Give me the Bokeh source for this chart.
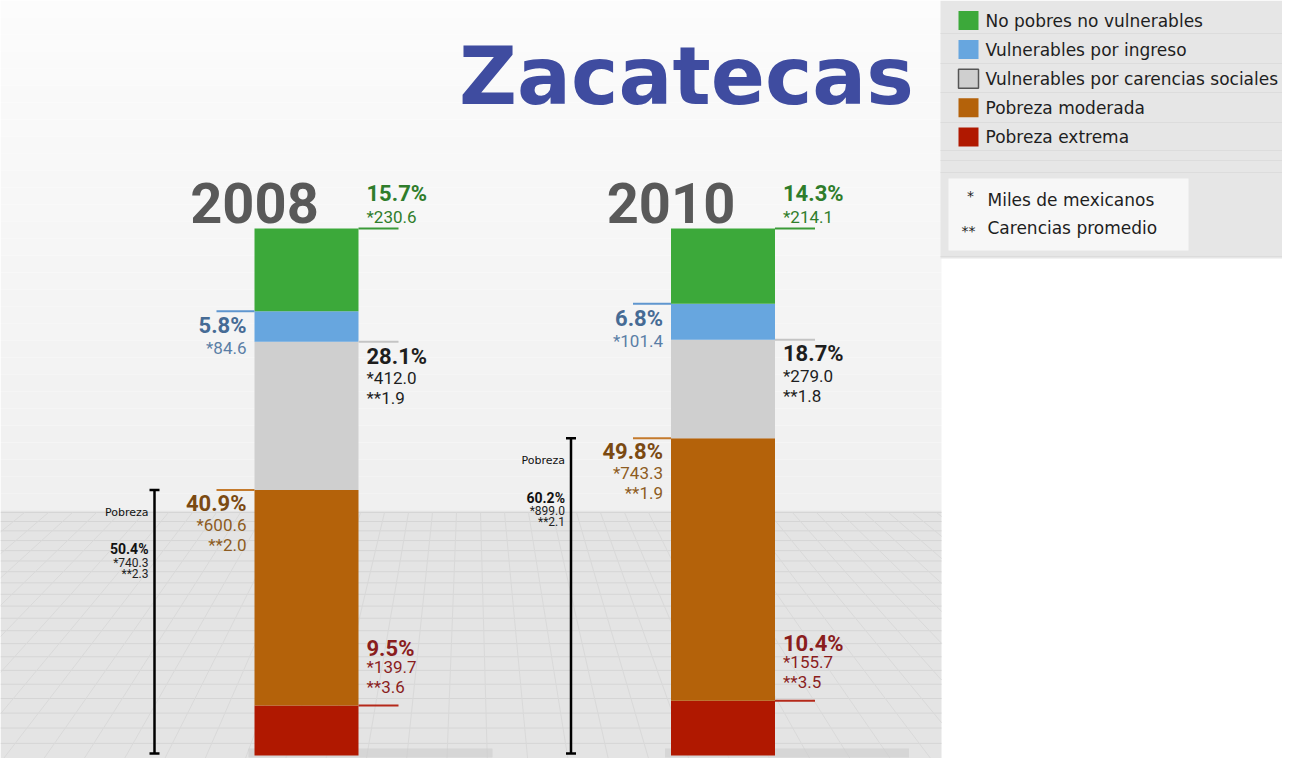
import numpy as np
from bokeh.plotting import figure
from bokeh.models import Range1d, ColumnDataSource
from bokeh.core.properties import value
from bokeh.embed import file_html
from bokeh.resources import INLINE

# ---------------- data ----------------
title = "Zacatecas"
years = ["2008", "2010"]
categories = ["No pobres no vulnerables", "Vulnerables por ingreso",
              "Vulnerables por carencias sociales", "Pobreza moderada",
              "Pobreza extrema"]
pct_2008 = [15.7, 5.8, 28.1, 40.9, 9.5]
pct_2010 = [14.3, 6.8, 18.7, 49.8, 10.4]
miles_2008 = [230.6, 84.6, 412.0, 600.6, 139.7]
miles_2010 = [214.1, 101.4, 279.0, 743.3, 155.7]
carencias_2008 = [None, None, 1.9, 2.0, 3.6]
carencias_2010 = [None, None, 1.8, 1.9, 3.5]
pobreza_label = "Pobreza"
pobreza_pct = [50.4, 60.2]
pobreza_miles = [740.3, 899.0]
pobreza_carencias = [2.3, 2.1]
notes = [("*", "Miles de mexicanos"), ("**", "Carencias promedio")]

pcts = [pct_2008, pct_2010]
miles = [miles_2008, miles_2010]
cars = [carencias_2008, carencias_2010]

# ---------------- style ----------------
seg_colors = ["#3ca93a", "#67a6df", "#cfcfcf", "#b4620a", "#b01800"]
pct_colors = ["#2f7d2b", "#466b95", "#1e1e1e", "#7b4a12", "#8a1d1d"]
sub_colors = ["#2f7d2b", "#5a7ea6", "#1e1e1e", "#8d5c22", "#8a1d1d"]
lead_colors = ["#3a9a38", "#5f96cf", "#c4c4c4", "#c47a2c", "#b5291a"]
sides = ["right", "left", "right", "left", "right"]
offsets = [(-26, -5, -5), (23, 44, 44), (23, 43, 63), (22, 42, 62), (-48, -32, -12)]

W, H = 1282, 758
S = 5.27  # px per percent
FS_PCT, FS_SUB = 22, 17
BL = 0.4  # baseline correction (fraction of font size)


def X(ix):
    return ix


def Y(iy):
    return (755 - iy) / S


def up(fs):
    return BL * fs / S


p = figure(width=W, height=H, x_range=Range1d(0, W), y_range=Range1d(Y(H), Y(0)),
           output_backend="svg", toolbar_location=None, min_border=0,
           x_axis_type=None, y_axis_type=None, outline_line_color=None,
           background_fill_color="white", border_fill_color="white")

# ---------------- background ----------------
n_b = 30
edges = np.linspace(0, 510, n_b + 1)
c0, c1 = np.array([252, 252, 252]), np.array([240, 240, 240])
bcols = []
for j in range(n_b):
    t = j / (n_b - 1)
    c = (c0 * (1 - t) + c1 * t).astype(int)
    bcols.append("#%02x%02x%02x" % tuple(c))
p.quad(left=[X(0)] * n_b, right=[X(941)] * n_b, top=[Y(e) for e in edges[:-1]],
       bottom=[Y(e) - 0.01 for e in edges[1:]], fill_color=bcols, line_color=None)
p.quad(left=[X(0)], right=[X(941)], top=[Y(510)], bottom=[Y(780)],
       fill_color="#e4e4e4", line_color=None)

# floor grid
hy = []
yy, d = 512.0, 9.0
while yy < 774:
    hy.append(yy)
    yy += d
    d += 0.35
p.multi_line(xs=[[X(0), X(941)] for _ in hy], ys=[[Y(v), Y(v)] for v in hy],
             line_color="#d5d5d5", line_width=1)
vx, vy = 470.0, 150.0


def clip(xa, ya, xb_, yb_):
    if xa < 0 or xa > 941:
        xt = 0 if xa < 0 else 941
        if xb_ == xa:
            return None
        t = (xt - xa) / (xb_ - xa)
        if t < 0 or t > 1:
            return None
        return xt, ya + t * (yb_ - ya)
    return xa, ya


dxs, dys = [], []
for xh in np.arange(-1200, 2200, 24):
    xb = vx + (xh - vx) * (774 - vy) / (512 - vy)
    a = clip(xh, 512.0, xb, 774.0)
    b = clip(xb, 774.0, xh, 512.0)
    if a is None or b is None:
        continue
    dxs.append([X(a[0]), X(b[0])])
    dys.append([Y(a[1]), Y(b[1])])
p.multi_line(xs=dxs, ys=dys, line_color="#d9d9d9", line_width=1)

# legend panel background
p.quad(left=[X(940)], right=[X(1300)], top=[Y(0)], bottom=[Y(258)],
       fill_color="#e6e6e6", line_color=None)
lg_lines = [33, 63, 92, 122, 150, 160, 172, 256]
p.multi_line(xs=[[X(940), X(1300)] for _ in lg_lines], ys=[[Y(v), Y(v)] for v in lg_lines],
             line_color="#dcdcdc", line_width=1)

# ---------------- bars ----------------
bar_centers = [X(306), X(722.5)]
bar_w = 104

# shadows
p.quad(left=[c - bar_w / 2 - 6 for c in bar_centers], right=[c - bar_w / 2 + 238 for c in bar_centers],
       top=[Y(748)] * 2, bottom=[Y(757)] * 2, fill_color="#cdcdcd", fill_alpha=0.6, line_color=None)

ql, qr, qb, qt, qc = [], [], [], [], []
for i, yr in enumerate(years):
    cum = 0.0
    for k in reversed(range(len(categories))):
        ql.append(bar_centers[i] - bar_w / 2)
        qr.append(bar_centers[i] + bar_w / 2)
        qb.append(cum)
        qt.append(cum + pcts[i][k])
        qc.append(seg_colors[k])
        cum += pcts[i][k]
p.quad(left=ql, right=qr, bottom=qb, top=qt, fill_color=qc, line_color=None)

# ---------------- labels and leader lines ----------------
seg_x0, seg_x1, seg_y, seg_c = [], [], [], []
T_pct = dict(x=[], y=[], text=[], color=[], align=[])
T_sub = dict(x=[], y=[], text=[], color=[], align=[])
for i, yr in enumerate(years):
    left = bar_centers[i] - bar_w / 2
    right = bar_centers[i] + bar_w / 2
    for k in range(len(categories)):
        top = sum(pcts[i][k:])
        if sides[k] == "right":
            seg_x0.append(right); seg_x1.append(right + 40)
            tx, al = right + 8, "left"
        else:
            seg_x0.append(left - 38); seg_x1.append(left)
            tx, al = left - 8, "right"
        seg_y.append(top)
        seg_c.append(lead_colors[k])
        o = offsets[k]
        T_pct["x"].append(tx); T_pct["y"].append(top - o[0] / S + up(FS_PCT))
        T_pct["text"].append(f"{pcts[i][k]:.1f}%"); T_pct["color"].append(pct_colors[k])
        T_pct["align"].append(al)
        T_sub["x"].append(tx); T_sub["y"].append(top - o[1] / S + up(FS_SUB))
        T_sub["text"].append(f"*{miles[i][k]:.1f}"); T_sub["color"].append(sub_colors[k])
        T_sub["align"].append(al)
        if cars[i][k] is not None:
            T_sub["x"].append(tx); T_sub["y"].append(top - o[2] / S + up(FS_SUB))
            T_sub["text"].append(f"**{cars[i][k]:.1f}"); T_sub["color"].append(sub_colors[k])
            T_sub["align"].append(al)

p.segment(x0=seg_x0, x1=seg_x1, y0=seg_y, y1=seg_y, line_color=seg_c, line_width=2)
p.text(x="x", y="y", text="text", text_color="color", text_align="align",
       source=ColumnDataSource(T_pct), text_baseline="alphabetic",
       text_font=value("Roboto"), text_font_style="bold", text_font_size=f"{FS_PCT}px")
p.text(x="x", y="y", text="text", text_color="color", text_align="align",
       source=ColumnDataSource(T_sub), text_baseline="alphabetic",
       text_font=value("Roboto"), text_font_size=f"{FS_SUB}px")

# years
p.text(x=[c - bar_w / 2 for c in bar_centers], y=[Y(225) + up(56)] * 2, text=years,
       text_align="center", text_baseline="alphabetic", text_color="#595959",
       text_font=value("Roboto"), text_font_style="bold", text_font_size="56px")

# title
p.text(x=[X(686)], y=[Y(108) + up(80)], text=[title], text_align="center", text_baseline="alphabetic",
       text_color="#3f4ca0", text_font=value("DejaVu Sans"), text_font_style="bold",
       text_font_size="80px")

# poverty brackets
bx, btop = [], []
for i in range(len(years)):
    left = bar_centers[i] - bar_w / 2
    bx.append(left - 100)
    btop.append(pcts[i][3] + pcts[i][4])
p.segment(x0=bx, x1=bx, y0=btop, y1=[Y(753)] * len(bx), line_color="black", line_width=2.5)
p.segment(x0=[b - 5 for b in bx] * 2, x1=[b + 5 for b in bx] * 2,
          y0=btop + [Y(753)] * len(bx), y1=btop + [Y(753)] * len(bx), line_color="black", line_width=2.5)
tx = [b - 6 for b in bx]
p.text(x=tx, y=[t - 27 / S + up(11) for t in btop], text=[pobreza_label] * len(bx), text_align="right",
       text_baseline="alphabetic", text_color="#111111", text_font=value("DejaVu Sans"),
       text_font_size="11px")
p.text(x=tx, y=[t - 65 / S + up(14) for t in btop], text=[f"{v:.1f}%" for v in pobreza_pct],
       text_align="right", text_baseline="alphabetic", text_color="#111111",
       text_font=value("Roboto"), text_font_style="bold", text_font_size="14px")
p.text(x=tx, y=[t - 78 / S + up(12) for t in btop], text=[f"*{v:.1f}" for v in pobreza_miles],
       text_align="right", text_baseline="alphabetic", text_color="#222222",
       text_font=value("Roboto"), text_font_size="12px")
p.text(x=tx, y=[t - 89 / S + up(12) for t in btop], text=[f"**{v:.1f}" for v in pobreza_carencias],
       text_align="right", text_baseline="alphabetic", text_color="#222222",
       text_font=value("Roboto"), text_font_size="12px")

# ---------------- legend ----------------
rows = [Y(20 + 29.1 * k) for k in range(len(categories))]
p.rect(x=[X(968)] * len(categories), y=rows, width=20, height=19 / S,
       fill_color=seg_colors, line_color=[None, None, "#555555", None, None], line_width=1.5)
p.text(x=[X(985)] * len(categories), y=rows, text=categories, text_baseline="middle",
       text_color="#1e1e1e", text_font=value("DejaVu Sans"), text_font_size="17px")

p.quad(left=[X(948)], right=[X(1188)], top=[Y(178)], bottom=[Y(250)],
       fill_color="#f7f7f7", line_color=None)
p.text(x=[X(970), X(968)], y=[Y(195), Y(230)], text=[n[0] for n in notes], text_align="center",
       text_baseline="middle", text_color="#1e1e1e", text_font=value("DejaVu Sans"),
       text_font_size="14px")
p.text(x=[X(987)] * 2, y=[Y(199), Y(227)], text=[n[1] for n in notes], text_baseline="middle",
       text_color="#1e1e1e", text_font=value("DejaVu Sans"), text_font_size="17px")

open("out.html", "w").write(file_html(p, INLINE))
